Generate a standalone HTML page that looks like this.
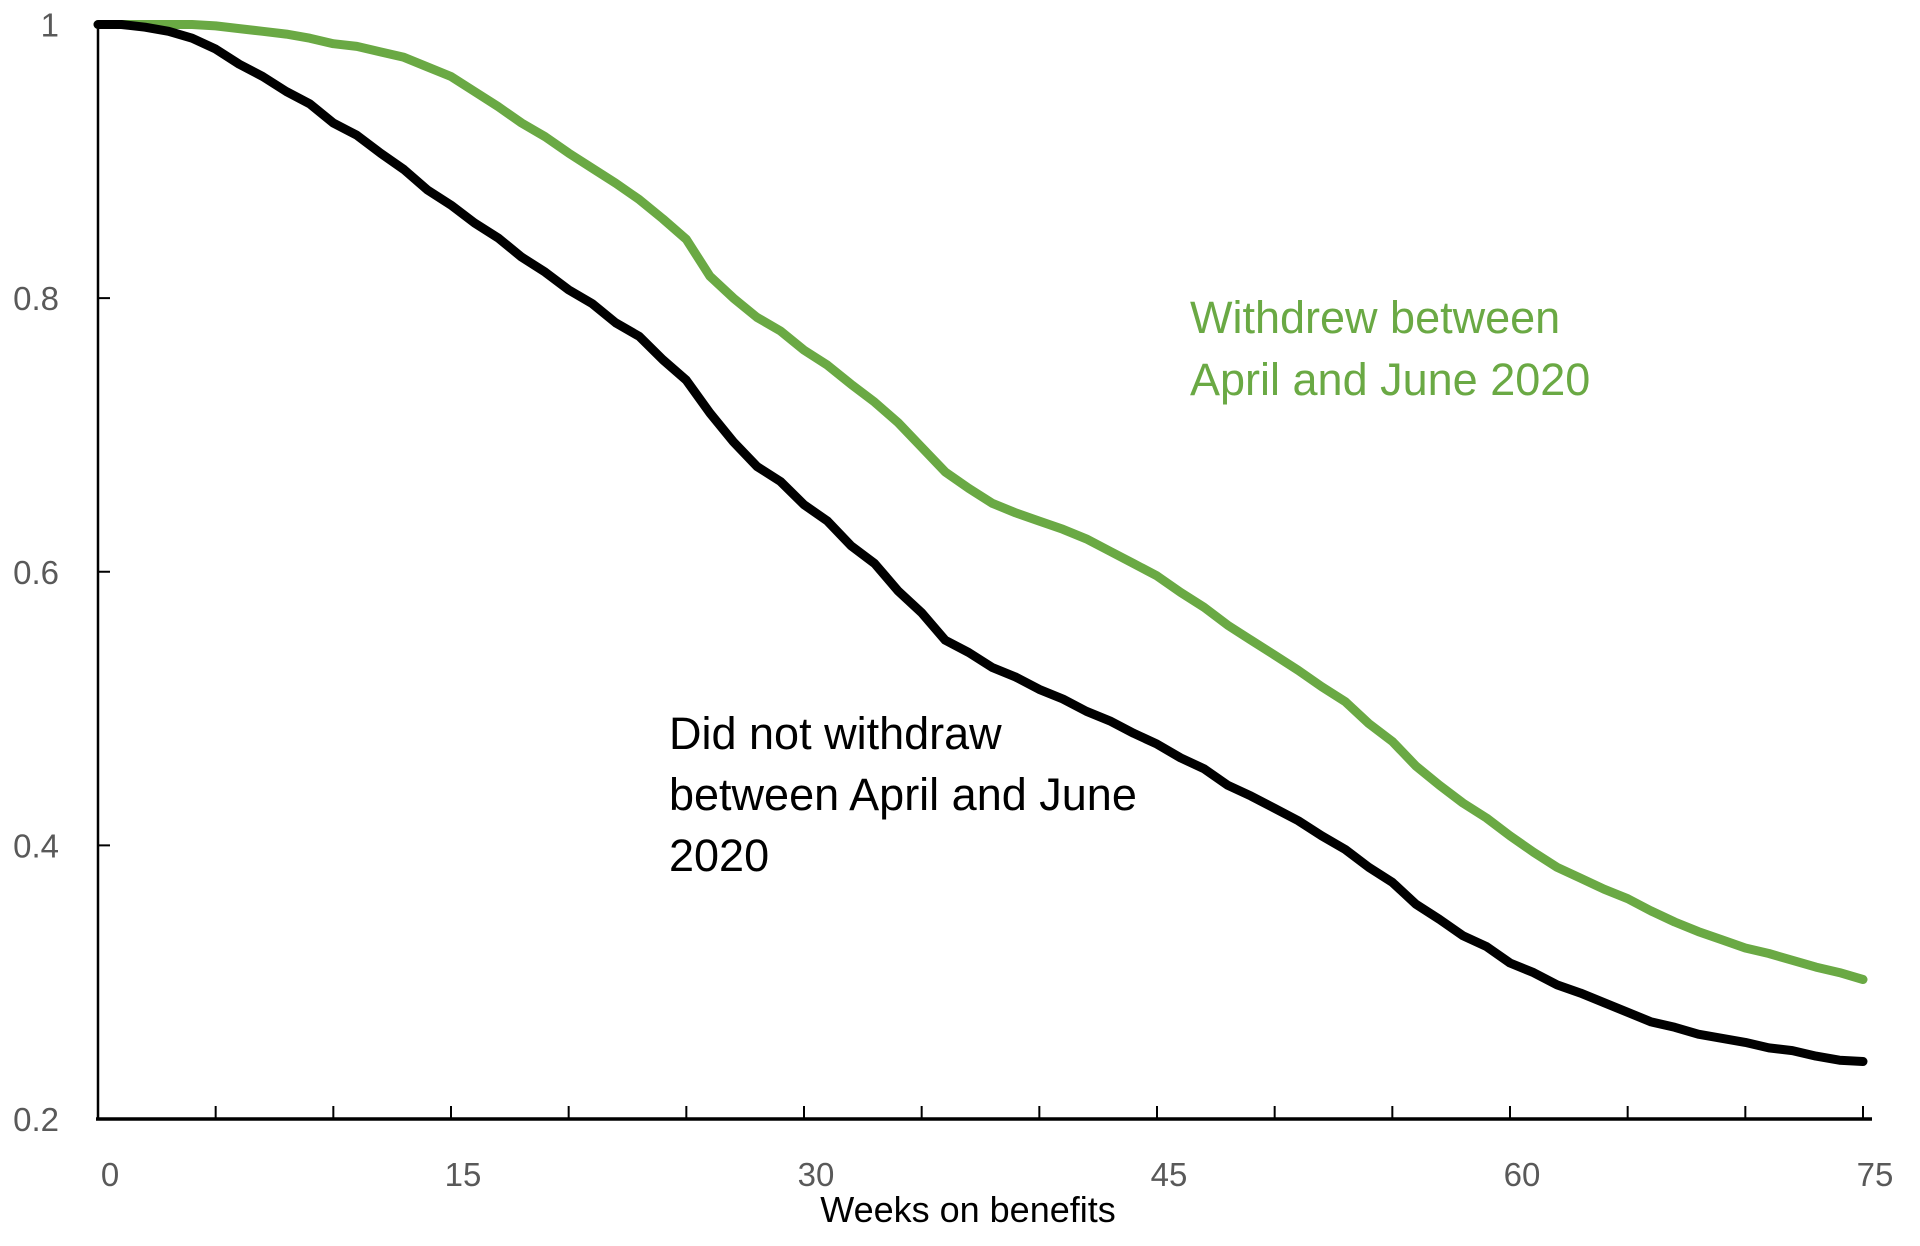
<!DOCTYPE html>
<html><head><meta charset="utf-8"><style>
html,body{margin:0;padding:0;background:#fff;}
svg{display:block;}
text{font-family:"Liberation Sans",sans-serif;}
</style></head><body>
<svg id="chart" width="1920" height="1246" viewBox="0 0 1920 1246" xmlns="http://www.w3.org/2000/svg">
<g id="axes"></g>
<g id="series"></g>
<text x="1190" y="333" font-size="45" fill="#6aa944">Withdrew between</text>
<text x="1190" y="395" font-size="45" fill="#6aa944">April and June 2020</text>
<text x="669" y="749" font-size="45" fill="#000">Did not withdraw</text>
<text x="669" y="810" font-size="45" fill="#000">between April and June</text>
<text x="669" y="871" font-size="45" fill="#000">2020</text>
<text x="968" y="1222" font-size="36" text-anchor="middle" fill="#000">Weeks on benefits</text>
</svg>
<script>
const weeks = Array.from({length:76},(_,i)=>i);
const notWithdrew = [1,1,.998,.995,.990,.982,.971,.962,.951,.942,.928,.919,.906,.894,.879,.868,.855,.844,.830,.819,.806,.796,.782,.772,.755,.740,.716,.695,.677,.666,.649,.637,.619,.606,.586,.570,.550,.541,.530,.523,.514,.507,.498,.491,.482,.474,.464,.456,.444,.436,.427,.418,.407,.397,.384,.373,.357,.346,.334,.326,.314,.307,.298,.292,.285,.278,.271,.267,.262,.259,.256,.252,.250,.246,.243,.242];
const withdrew = [1,1,1,1,1,.999,.997,.995,.993,.990,.986,.984,.980,.976,.969,.962,.951,.940,.928,.918,.906,.895,.884,.872,.858,.843,.816,.800,.786,.776,.762,.751,.737,.724,.709,.691,.673,.661,.650,.643,.637,.631,.624,.615,.606,.597,.585,.574,.561,.550,.539,.528,.516,.505,.489,.476,.458,.444,.431,.420,.407,.395,.384,.376,.368,.361,.352,.344,.337,.331,.325,.321,.316,.311,.307,.302];
const yTicks = [0.2,0.4,0.6,0.8,1];
const yTickLabels = ["0.2","0.4","0.6","0.8","1"];
const xTickLabels = [0,15,30,45,60,75];

const X0=98, X1=1863, Y0=1119, Y1=24.5;
const xs = w => X0 + (X1-X0)*w/75;
const ys = v => Y0 - (Y0-Y1)*(v-0.2)/0.8;
const NS="http://www.w3.org/2000/svg";
function mk(tag, attrs, parent){const e=document.createElementNS(NS,tag);for(const k in attrs)e.setAttribute(k,attrs[k]);parent.appendChild(e);return e;}
const axes=document.getElementById('axes'), series=document.getElementById('series');

let e=mk('line',{x1:X0,y1:Y1,x2:X0,y2:Y0,stroke:'#000','stroke-width':2.5},axes);


e=mk('line',{x1:X0-2,y1:Y0,x2:1872,y2:Y0,stroke:'#000','stroke-width':3.5},axes);


for(let w=5;w<=75;w+=5){
  e=mk('line',{x1:xs(w),y1:Y0,x2:xs(w),y2:Y0-13,stroke:'#000','stroke-width':2},axes);
  
  
}
xTickLabels.forEach(w=>{
  e=mk('text',{x:xs(w)+12,y:1186,'font-size':33,'text-anchor':'middle',fill:'#595959'},axes);
  e.textContent=String(w);
  
  
});
yTicks.forEach((v,i)=>{
  if(v>0.2&&v<1){
    e=mk('line',{x1:X0,y1:ys(v),x2:X0+12,y2:ys(v),stroke:'#000','stroke-width':2},axes);
    
    
  }
  e=mk('text',{x:59,y:ys(v)+12,'font-size':33,'text-anchor':'end',fill:'#595959'},axes);
  e.textContent=yTickLabels[i];
  
  
});
function line(vals,color,name){
  const d=vals.map((v,i)=>(i?'L':'M')+xs(weeks[i]).toFixed(1)+' '+ys(v).toFixed(1)).join(' ');
  const p=mk('path',{d:d,fill:'none',stroke:color,'stroke-width':9,'stroke-linejoin':'round','stroke-linecap':'round'},series);
  
  
}
line(withdrew,'#6aa944','withdrew-line');
line(notWithdrew,'#000','not-withdrew-line');
</script>
</body></html>
